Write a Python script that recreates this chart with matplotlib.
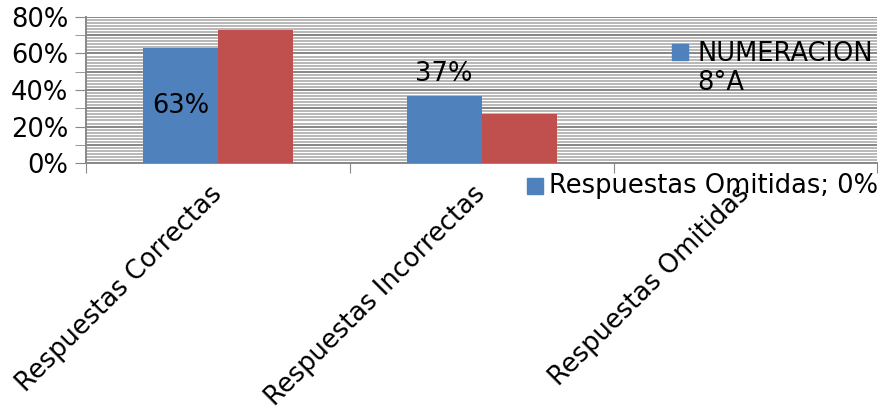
import numpy as np
import matplotlib
matplotlib.use("Agg")
import matplotlib.pyplot as plt
import matplotlib.transforms as mtransforms
from matplotlib.patches import Rectangle
from matplotlib.ticker import MultipleLocator, PercentFormatter

categories = ["Respuestas Correctas", "Respuestas Incorrectas", "Respuestas Omitidas"]
serie_a = [63, 37, 0]   # NUMERACION 8°A
serie_b = [73, 27, 0]
serie_a_name = "NUMERACION\n8°A"

blue = "#4f81bd"
red = "#c0504d"
fs = 18.5

fig = plt.figure(figsize=(8.88, 4.12), dpi=100)
ax = fig.add_axes([0.097, 0.604, 0.891, 0.355])

x = np.arange(len(categories))
w = 0.285
ax.bar(x - w / 2, serie_a, width=w, color=blue, zorder=3)
ax.bar(x + w / 2, serie_b, width=w, color=red, zorder=3)

ax.set_xlim(-0.5, 2.5)
ax.set_ylim(0, 80)

# striped background + gridlines
ax.yaxis.set_major_locator(MultipleLocator(20))
ax.yaxis.set_minor_locator(MultipleLocator(10))
ax.yaxis.set_major_formatter(PercentFormatter(decimals=0))
for y in np.arange(0, 80.01, 10 / 6):
    ax.axhline(y, color="#b8b8b8", lw=1.4, zorder=1)
for y in np.arange(10, 80.01, 10):
    ax.axhline(y, color="#888888", lw=1.4, zorder=2)

for s in ["top", "right"]:
    ax.spines[s].set_visible(False)
for s in ["left", "bottom"]:
    ax.spines[s].set_color("#888888")
    ax.spines[s].set_linewidth(1.4)

ax.tick_params(axis="y", which="both", length=8, color="#888888", labelsize=fs, pad=5)
ax.set_xticks([-0.5, 0.5, 1.5, 2.5])
ax.set_xticklabels([])
ax.tick_params(axis="x", length=7, color="#888888")
ax.set_xticks(x, minor=True)
ax.set_xticklabels(categories, minor=True, rotation=45, ha="right",
                   rotation_mode="anchor", fontsize=fs)
ax.tick_params(axis="x", which="minor", length=0, pad=13)
shift = mtransforms.ScaledTranslation(-0.09, 0, fig.dpi_scale_trans)
for lbl in ax.get_xticklabels(minor=True):
    lbl.set_transform(lbl.get_transform() + shift)

# data labels
ax.text(x[0] - w / 2, 31.5, f"{serie_a[0]}%", ha="center", va="center", fontsize=fs, zorder=4)
ax.text(x[1] - w / 2, 48.5, f"{serie_a[1]}%", ha="center", va="center", fontsize=fs, zorder=4)

# legend
fig.patches.append(Rectangle((0.757, 0.855), 0.018, 0.039, transform=fig.transFigure,
                             color=blue, zorder=5))
fig.text(0.785, 0.834, serie_a_name, fontsize=fs, ha="left", va="center",
         linespacing=1.15)

# omitted label
fig.patches.append(Rectangle((0.594, 0.530), 0.018, 0.039, transform=fig.transFigure,
                             color=blue, zorder=5))
fig.text(0.618, 0.549, f"{categories[2]}; {serie_a[2]}%", fontsize=fs, ha="left", va="center")

fig.savefig("out.png", dpi=100)
